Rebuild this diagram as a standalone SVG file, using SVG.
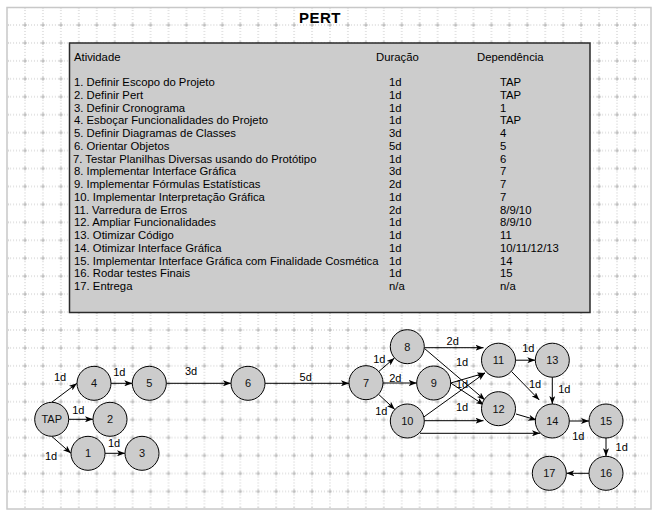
<svg xmlns="http://www.w3.org/2000/svg" width="660" height="520" viewBox="0 0 660 520">
<style>
text{font-family:"Liberation Sans",Arial,sans-serif;font-size:11px;fill:#000}
#table text{font-size:11.3px}
.title{font-size:15px;font-weight:bold;letter-spacing:0.5px}
.node circle{fill:#cccccc;stroke:#000;stroke-width:1}
.node text{text-anchor:middle;fill:#111}
.edge{stroke:#000;stroke-width:1;fill:none;marker-end:url(#arr)}
.lbl{text-anchor:middle}
</style>
<defs>
<pattern id="grid" patternUnits="userSpaceOnUse" x="16.03" y="16.03" width="17.94" height="17.94">
<line x1="0" y1="8.97" x2="17.94" y2="8.97" stroke="#c6c6c6" stroke-width="1" stroke-dasharray="1,2"/>
<line x1="8.97" y1="0" x2="8.97" y2="17.94" stroke="#c6c6c6" stroke-width="1" stroke-dasharray="1,2"/>
<line x1="6.97" y1="8.97" x2="10.97" y2="8.97" stroke="#b4b4b4" stroke-width="1"/>
<line x1="8.97" y1="6.97" x2="8.97" y2="10.97" stroke="#b4b4b4" stroke-width="1"/>
</pattern>
<marker id="arr" markerUnits="userSpaceOnUse" markerWidth="8" markerHeight="6" refX="8" refY="3" orient="auto">
<path d="M0,0 L8,3 L0,6 L2,3 z" fill="#000"/>
</marker>
</defs>
<rect x="0" y="0" width="660" height="520" fill="#fff"/>
<rect x="7" y="7.5" width="644" height="501.5" fill="#fff" stroke="#c8c8c8" stroke-width="1.5"/>
<rect x="8" y="8.5" width="642" height="499.5" fill="url(#grid)"/>
<text class="title" x="320" y="22.5" text-anchor="middle">PERT</text>

<g id="table">
<rect x="69.5" y="43" width="520.5" height="269.5" fill="#cccccc" stroke="#2a2a2a" stroke-width="1.5"/>
<text x="74" y="61">Atividade</text>
<text x="376" y="61">Duração</text>
<text x="477" y="61">Dependência</text>
<text x="74" y="86">1. Definir Escopo do Projeto</text>
<text x="74" y="98.75">2. Definir Pert</text>
<text x="74" y="111.5">3. Definir Cronograma</text>
<text x="74" y="124.25">4. Esboçar Funcionalidades do Projeto</text>
<text x="74" y="137">5. Definir Diagramas de Classes</text>
<text x="74" y="149.75">6. Orientar Objetos</text>
<text x="73" y="162.5">7. Testar Planilhas Diversas usando do Protótipo</text>
<text x="74" y="175.25">8. Implementar Interface Gráfica</text>
<text x="74" y="188">9. Implementar Fórmulas Estatísticas</text>
<text x="74" y="200.75">10. Implementar Interpretação Gráfica</text>
<text x="74" y="213.5">11. Varredura de Erros</text>
<text x="74" y="226.25">12. Ampliar Funcionalidades</text>
<text x="74" y="239">13. Otimizar Código</text>
<text x="74" y="251.75">14. Otimizar Interface Gráfica</text>
<text x="74" y="264.5">15. Implementar Interface Gráfica com Finalidade Cosmética</text>
<text x="74" y="277.25">16. Rodar testes Finais</text>
<text x="74" y="290">17. Entrega</text>
<text x="389" y="86">1d</text>
<text x="389" y="98.75">1d</text>
<text x="389" y="111.5">1d</text>
<text x="389" y="124.25">1d</text>
<text x="389" y="137">3d</text>
<text x="389" y="149.75">5d</text>
<text x="389" y="162.5">1d</text>
<text x="389" y="175.25">3d</text>
<text x="389" y="188">2d</text>
<text x="389" y="200.75">1d</text>
<text x="389" y="213.5">2d</text>
<text x="389" y="226.25">1d</text>
<text x="389" y="239">1d</text>
<text x="389" y="251.75">1d</text>
<text x="389" y="264.5">1d</text>
<text x="389" y="277.25">1d</text>
<text x="389" y="290">n/a</text>
<text x="500" y="86">TAP</text>
<text x="500" y="98.75">TAP</text>
<text x="500" y="111.5">1</text>
<text x="500" y="124.25">TAP</text>
<text x="500" y="137">4</text>
<text x="500" y="149.75">5</text>
<text x="500" y="162.5">6</text>
<text x="500" y="175.25">7</text>
<text x="500" y="188">7</text>
<text x="500" y="200.75">7</text>
<text x="500" y="213.5">8/9/10</text>
<text x="500" y="226.25">8/9/10</text>
<text x="500" y="239">11</text>
<text x="500" y="251.75">10/11/12/13</text>
<text x="500" y="264.5">14</text>
<text x="500" y="277.25">15</text>
<text x="500" y="290">n/a</text>
</g>

<g id="connectors">
<line class="edge" x1="51.7" y1="402.3" x2="77" y2="383.3"/>
<line class="edge" x1="111" y1="383.3" x2="132.3" y2="383.3"/>
<line class="edge" x1="166.3" y1="383.3" x2="231" y2="383.3"/>
<line class="edge" x1="265" y1="383.3" x2="349" y2="383.3"/>
<line class="edge" x1="68.7" y1="419.3" x2="93" y2="419.3"/>
<line class="edge" x1="51.7" y1="436.3" x2="71" y2="453.3"/>
<line class="edge" x1="105" y1="453.3" x2="125" y2="453.3"/>
<line class="edge" x1="378.8" y1="371.5" x2="394.5" y2="357.9"/>
<line class="edge" x1="383" y1="383" x2="416.7" y2="383"/>
<line class="edge" x1="378.5" y1="394.3" x2="394.8" y2="409.4"/>
<line class="edge" x1="424.3" y1="347.7" x2="483.5" y2="347.7"/>
<line class="edge" x1="424.5" y1="348.5" x2="485" y2="400"/>
<line class="edge" x1="450.7" y1="383" x2="485" y2="373"/>
<line class="edge" x1="450.7" y1="383" x2="484" y2="405"/>
<line class="edge" x1="421" y1="419" x2="485" y2="373"/>
<line class="edge" x1="424.3" y1="420.7" x2="483.5" y2="420.7"/>
<line class="edge" x1="420" y1="433.3" x2="540" y2="433.3"/>
<line class="edge" x1="515.5" y1="360.2" x2="535.3" y2="360.2"/>
<line class="edge" x1="511.7" y1="371.7" x2="539.3" y2="400"/>
<line class="edge" x1="516" y1="414" x2="536.5" y2="420"/>
<line class="edge" x1="552.3" y1="377" x2="552.3" y2="404"/>
<line class="edge" x1="569.3" y1="421" x2="589" y2="421"/>
<line class="edge" x1="606" y1="438" x2="606" y2="456.3"/>
<line class="edge" x1="589" y1="473.3" x2="566.3" y2="473.3"/>
<text class="lbl" x="60" y="381.3">1d</text>
<text class="lbl" x="119.3" y="376.3">1d</text>
<text class="lbl" x="191" y="375">3d</text>
<text class="lbl" x="305.7" y="381.3">5d</text>
<text class="lbl" x="78.3" y="414">1d</text>
<text class="lbl" x="114" y="447.3">1d</text>
<text class="lbl" x="51" y="459.7">1d</text>
<text class="lbl" x="379.3" y="363.3">1d</text>
<text class="lbl" x="395.3" y="382.3">2d</text>
<text class="lbl" x="381.3" y="414.7">1d</text>
<text class="lbl" x="452.7" y="345">2d</text>
<text class="lbl" x="462" y="365.7">1d</text>
<text class="lbl" x="462" y="388">1d</text>
<text class="lbl" x="462" y="411.3">1d</text>
<text class="lbl" x="528.3" y="352.3">1d</text>
<text class="lbl" x="535" y="388">1d</text>
<text class="lbl" x="564.3" y="393">1d</text>
<text class="lbl" x="578.3" y="440">1d</text>
<text class="lbl" x="621.7" y="450.7">1d</text>
</g>

<g id="node-TAP" class="node"><circle cx="51.7" cy="419.3" r="17"/><text x="51.7" y="423.3">TAP</text></g>
<g id="node-4" class="node"><circle cx="94" cy="383.3" r="17"/><text x="94" y="387.3">4</text></g>
<g id="node-5" class="node"><circle cx="149.3" cy="383.3" r="17"/><text x="149.3" y="387.3">5</text></g>
<g id="node-6" class="node"><circle cx="248" cy="383.3" r="17"/><text x="248" y="387.3">6</text></g>
<g id="node-2" class="node"><circle cx="110" cy="419.3" r="17"/><text x="110" y="423.3">2</text></g>
<g id="node-1" class="node"><circle cx="88" cy="453.3" r="17"/><text x="88" y="457.3">1</text></g>
<g id="node-3" class="node"><circle cx="142" cy="453.3" r="17"/><text x="142" y="457.3">3</text></g>
<g id="node-7" class="node"><circle cx="366" cy="382.7" r="17"/><text x="366" y="386.7">7</text></g>
<g id="node-8" class="node"><circle cx="407.3" cy="346.7" r="17"/><text x="407.3" y="350.7">8</text></g>
<g id="node-9" class="node"><circle cx="433.7" cy="383" r="17"/><text x="433.7" y="387">9</text></g>
<g id="node-10" class="node"><circle cx="407.3" cy="421" r="17"/><text x="407.3" y="425">10</text></g>
<g id="node-11" class="node"><circle cx="498.5" cy="360.2" r="17"/><text x="498.5" y="364.2">11</text></g>
<g id="node-12" class="node"><circle cx="498.5" cy="408.7" r="17"/><text x="498.5" y="412.7">12</text></g>
<g id="node-13" class="node"><circle cx="552.3" cy="360.2" r="17"/><text x="552.3" y="364.2">13</text></g>
<g id="node-14" class="node"><circle cx="552.3" cy="421" r="17"/><text x="552.3" y="425">14</text></g>
<g id="node-15" class="node"><circle cx="606" cy="421" r="17"/><text x="606" y="425">15</text></g>
<g id="node-16" class="node"><circle cx="606" cy="473.3" r="17"/><text x="606" y="477.3">16</text></g>
<g id="node-17" class="node"><circle cx="549.3" cy="473.3" r="17"/><text x="549.3" y="477.3">17</text></g>
</svg>
